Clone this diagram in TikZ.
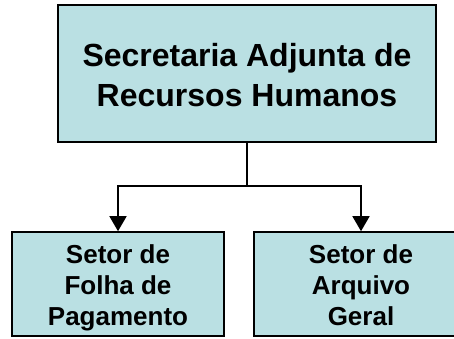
\documentclass[tikz,border=0pt]{standalone}
\usepackage{fontspec}
\setmainfont{Liberation Sans}
\usetikzlibrary{arrows.meta}
\definecolor{boxfill}{RGB}{186,224,227}
\tikzstyle{unit} = [draw=black, line width=1.6pt, fill=boxfill, inner sep=0pt]
\tikzstyle{title} = [align=center, inner sep=0pt, font=\fontsize{32}{40}\bfseries]
\tikzstyle{subtitle} = [align=center, inner sep=0pt, font=\fontsize{26}{31}\bfseries]
\tikzstyle{arrow} = [line width=1.6pt, -{Triangle[width=17pt,length=15pt]}]

\begin{document}
\begin{tikzpicture}[x=1pt,y=-1pt]
        \useasboundingbox (0,0) rectangle (454,338);
        \clip (0,0) rectangle (454,338);

        \node[unit, minimum width=378pt, minimum height=137pt] (sarh) at (247,73.5) {};
            \node[title, yshift=-2pt] (sarhtext) at (sarh.center) {Secretaria Adjunta de\\Recursos Humanos};

        \node[unit, minimum width=212pt, minimum height=104pt] (folha) at (118,284) {};
            \node[subtitle, yshift=-6pt] (folhatext) at (folha.center) {Setor de\\Folha de\\Pagamento\strut};
        \node[unit, minimum width=214pt, minimum height=104pt] (arquivo) at (361,284) {};
            \node[subtitle, yshift=-6pt] (arquivotext) at (arquivo.center) {Setor de\\Arquivo\\Geral\strut};

        % Draw Arrows
        \coordinate (split) at (247,186);
        \draw[line width=1.6pt] (sarh.south) -- (split);
        \draw[arrow] (split) -| (folha.north);
        \draw[arrow] (split) -| (arquivo.north);

    \end{tikzpicture}
\end{document}
